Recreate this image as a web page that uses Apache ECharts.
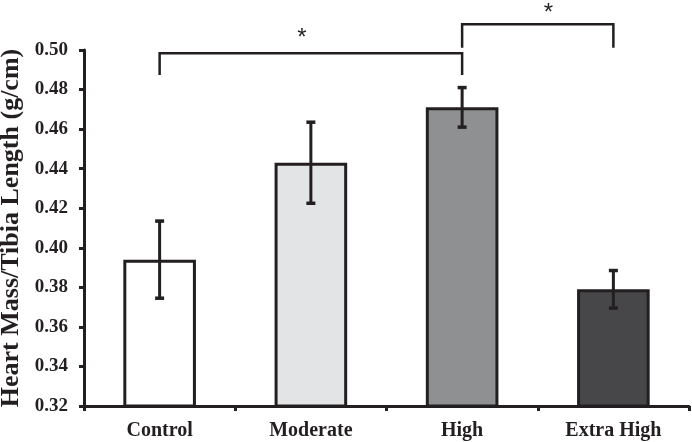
<!DOCTYPE html>
<html>
<head>
<meta charset="utf-8">
<script src="https://cdn.jsdelivr.net/npm/echarts@6/dist/echarts.min.js"></script>
<style>
html,body{margin:0;padding:0;background:#fff;}
#chart{width:692px;height:442px;}
</style>
</head>
<body>
<div id="chart"></div>
<script>
// ---- data ----
var categories = ['Control', 'Moderate', 'High', 'Extra High'];
var means = [0.394, 0.443, 0.471, 0.379];
var errors = [0.0195, 0.0205, 0.010, 0.0095];
var barColors = ['#ffffff', '#e3e4e6', '#8f9092', '#47474a'];
// significance brackets
var bracketFrom = [0, 2];
var bracketTo = [2, 3];
var bracketLine = [0.4983, 0.5130];
var bracketDrop = [0.4874, 0.5012];
var bracketStarX = [0.94, 2.57];
var bracketStar = [0.5058, 0.5183];
var bracketText = ['*', '*'];
var yMin = 0.32, yMax = 0.50, yStep = 0.02;

var ink = '#231f20';
var serif = '"Liberation Serif","Times New Roman",serif';

var chart = echarts.init(document.getElementById('chart'), null, {renderer: 'canvas'});

var barData = means.map(function (v, i) {
  return {value: v, itemStyle: {color: barColors[i]}};
});
var errData = means.map(function (v, i) {
  return [i, v - errors[i], v + errors[i]];
});
var brData = bracketFrom.map(function (f, i) {
  return [f, bracketTo[i], bracketLine[i], bracketDrop[i], bracketStar[i], bracketStarX[i]];
});

chart.setOption({
  animation: false,
  grid: {left: 84, right: 3, top: 50, bottom: 36, containLabel: false, outerBoundsMode: 'none'},
  xAxis: {
    type: 'category',
    data: categories,
    axisLine: {lineStyle: {color: ink, width: 3}},
    axisTick: {show: true, length: 5, lineStyle: {color: ink, width: 3}},
    axisLabel: {color: ink, fontFamily: serif, fontWeight: 'bold', fontSize: 20, margin: 15}
  },
  yAxis: {
    type: 'value',
    min: yMin, max: yMax, interval: yStep,
    name: 'Heart Mass/Tibia Length (g/cm)',
    nameLocation: 'middle',
    nameGap: 57,
    nameTextStyle: {color: ink, fontFamily: serif, fontWeight: 'bold', fontSize: 26},
    axisLine: {show: true, lineStyle: {color: ink, width: 3}},
    axisTick: {show: true, length: 5, lineStyle: {color: ink, width: 3}},
    splitLine: {show: false},
    axisLabel: {
      color: ink, fontFamily: serif, fontWeight: 'bold', fontSize: 19, margin: 16,
      formatter: function (v) { return v.toFixed(2); }
    }
  },
  series: [
    {
      type: 'bar',
      data: barData,
      barWidth: '48%',
      itemStyle: {borderColor: ink, borderWidth: 3},
      z: 2
    },
    {
      type: 'custom',
      data: errData,
      z: 5,
      renderItem: function (params, api) {
        var x = api.value(0);
        var lo = api.coord([x, api.value(1)]);
        var hi = api.coord([x, api.value(2)]);
        var hw = 4.5;
        var st = {stroke: ink, lineWidth: 3};
        return {
          type: 'group',
          children: [
            {type: 'line', shape: {x1: lo[0], y1: lo[1], x2: hi[0], y2: hi[1]}, style: st},
            {type: 'line', shape: {x1: lo[0] - hw, y1: lo[1], x2: lo[0] + hw, y2: lo[1]}, style: {stroke: ink, lineWidth: 3.5}},
            {type: 'line', shape: {x1: hi[0] - hw, y1: hi[1], x2: hi[0] + hw, y2: hi[1]}, style: {stroke: ink, lineWidth: 3.5}}
          ]
        };
      }
    },
    {
      type: 'custom',
      data: brData,
      clip: false,
      z: 6,
      renderItem: function (params, api) {
        var f = api.value(0), t = api.value(1);
        var a = api.coord([f, api.value(2)]);
        var b = api.coord([t, api.value(2)]);
        var ad = api.coord([f, api.value(3)]);
        var bd = api.coord([t, api.value(3)]);
        // star position: interpolate between neighbouring category centres
        var sx = api.value(5);
        var k = Math.floor(sx);
        var p0 = api.coord([k, api.value(4)]);
        var p1 = api.coord([k + 1, api.value(4)]);
        var px = p0[0] + (p1[0] - p0[0]) * (sx - k);
        return {
          type: 'group',
          children: [
            {type: 'polyline', shape: {points: [ad, a, b, bd]}, style: {stroke: ink, lineWidth: 2.5, fill: null}},
            {type: 'text', x: px, y: p0[1], style: {
              text: bracketText[params.dataIndex], fill: ink, align: 'center', verticalAlign: 'middle',
              font: '24px "Liberation Sans", sans-serif'
            }}
          ]
        };
      }
    }
  ]
});
</script>
</body>
</html>
